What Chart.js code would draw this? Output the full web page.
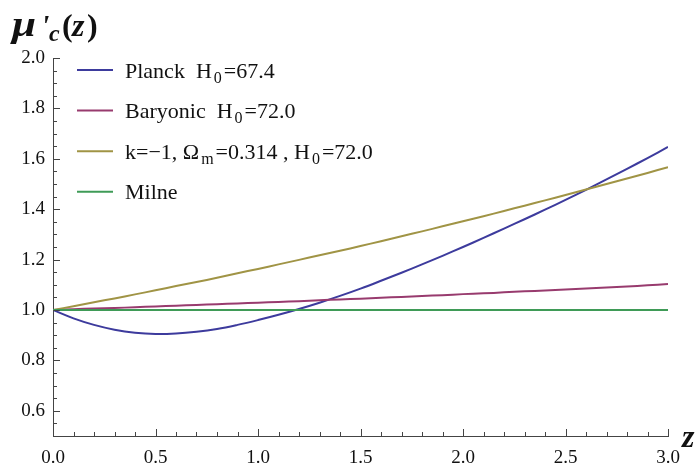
<!DOCTYPE html>
<html>
<head>
<meta charset="utf-8">
<script src="https://cdn.jsdelivr.net/npm/chart.js@4"></script>
<style>
  body { margin: 0; background: #fff; }
  #wrap { width: 699px; height: 466px; position: relative; }
</style>
</head>
<body>
<div id="wrap"><canvas id="muChart"></canvas></div>
<script>
const zValues = [0.0, 0.1, 0.2, 0.3, 0.4, 0.5, 0.6, 0.7, 0.8, 0.9, 1.0, 1.1, 1.2, 1.3, 1.4, 1.5,
  1.6, 1.7, 1.8, 1.9, 2.0, 2.1, 2.2, 2.3, 2.4, 2.5, 2.6, 2.7, 2.8, 2.9, 3.0];

const planck = [1.000, 0.967, 0.941, 0.922, 0.910, 0.905, 0.907, 0.914, 0.925, 0.941, 0.960,
  0.981, 1.004, 1.029, 1.056, 1.085, 1.116, 1.148, 1.181, 1.215, 1.250, 1.286, 1.323,
  1.360, 1.398, 1.437, 1.477, 1.518, 1.560, 1.603, 1.647];

const baryonic = [1.000, 1.003, 1.006, 1.008, 1.011, 1.014, 1.017, 1.020, 1.023, 1.026, 1.029,
  1.032, 1.035, 1.039, 1.042, 1.045, 1.049, 1.052, 1.056, 1.059, 1.063, 1.066, 1.070,
  1.074, 1.077, 1.081, 1.085, 1.089, 1.093, 1.098, 1.103];

const openModel = [1.000, 1.015, 1.031, 1.046, 1.062, 1.078, 1.095, 1.111, 1.128, 1.146, 1.163,
  1.181, 1.199, 1.217, 1.235, 1.254, 1.273, 1.293, 1.312, 1.332, 1.352, 1.372, 1.393,
  1.414, 1.435, 1.456, 1.478, 1.500, 1.522, 1.544, 1.567];

const milne = [1, 1, 1, 1, 1, 1, 1, 1, 1, 1, 1, 1, 1, 1, 1, 1, 1, 1, 1, 1, 1, 1, 1, 1, 1, 1, 1, 1, 1, 1, 1];

const xTicks = [0.0, 0.5, 1.0, 1.5, 2.0, 2.5, 3.0];
const yTicks = [0.6, 0.8, 1.0, 1.2, 1.4, 1.6, 1.8, 2.0];

const seriesColors = ['#3d3b9d', '#983b6e', '#a09445', '#3f9b57'];

// legend text pieces, second entry = subscript
const legendLabels = [
  [['Planck  H', 0], ['0', 1], ['=67.4', 0]],
  [['Baryonic  H', 0], ['0', 1], ['=72.0', 0]],
  [['k=\u22121, \u03A9', 0], ['m', 1], ['=0.314 , H', 0], ['0', 1], ['=72.0', 0]],
  [['Milne', 0]]
];

const serif = '"Liberation Serif", "Times New Roman", serif';

function toPoints(values) {
  return values.map((v, i) => ({ x: zValues[i], y: v }));
}

const decorations = {
  id: 'decorations',
  afterDraw(chart) {
    const ctx = chart.ctx;
    const xs = chart.scales.x;
    const ys = chart.scales.y;
    const area = chart.chartArea;
    ctx.save();

    // ticks pointing into the plot
    ctx.strokeStyle = '#444';
    ctx.lineWidth = 1;
    for (let i = 0; i <= 30; i++) {
      const v = i / 10;
      const px = Math.round(xs.getPixelForValue(v)) + 0.5;
      const len = (i % 5 === 0) ? 7 : 4;
      ctx.beginPath();
      ctx.moveTo(px, area.bottom);
      ctx.lineTo(px, area.bottom - len);
      ctx.stroke();
    }
    for (let i = 10; i <= 40; i++) {
      const v = i / 20;
      const py = Math.round(ys.getPixelForValue(v)) + 0.5;
      const len = (i % 4 === 0) ? 7 : 4;
      ctx.beginPath();
      ctx.moveTo(area.left, py);
      ctx.lineTo(area.left + len, py);
      ctx.stroke();
    }

    // legend
    legendLabels.forEach((parts, i) => {
      const cy = 70 + i * 40.6;
      ctx.strokeStyle = seriesColors[i];
      ctx.lineWidth = 2;
      ctx.beginPath();
      ctx.moveTo(77, cy);
      ctx.lineTo(113, cy);
      ctx.stroke();
      let x = 125;
      ctx.fillStyle = '#111';
      ctx.textBaseline = 'alphabetic';
      ctx.textAlign = 'left';
      parts.forEach(([txt, sub]) => {
        ctx.font = (sub ? '16px ' : '22px ') + serif;
        if (sub) x += 2;
        ctx.fillText(txt, x, cy + 7.5 + (sub ? 5 : 0));
        x += ctx.measureText(txt).width + (sub ? 2 : 0);
      });
    });

    // title mu'_c(z)
    ctx.fillStyle = '#111';
    ctx.save();
    ctx.translate(12, 36);
    ctx.scale(1.2, 1);
    ctx.font = 'bold italic 36px ' + serif;
    ctx.fillText('\u03BC', 0, 0);
    ctx.restore();
    ctx.font = 'bold italic 30px ' + serif;
    ctx.fillText('\'', 41, 35);
    ctx.font = 'bold italic 24px ' + serif;
    ctx.fillText('c', 49, 41);
    ctx.font = 'bold 32px ' + serif;
    ctx.fillText('(', 62, 36);
    ctx.font = 'bold italic 32px ' + serif;
    ctx.fillText('z', 72, 36);
    ctx.font = 'bold 32px ' + serif;
    ctx.fillText(')', 87, 36);

    // axis label z
    ctx.font = 'bold italic 32px ' + serif;
    ctx.fillText('z', 682, 447);
    ctx.restore();
  }
};

const ctx = document.getElementById('muChart').getContext('2d');
new Chart(ctx, {
  type: 'line',
  data: {
    datasets: [
      { label: 'Milne', data: toPoints(milne), borderColor: seriesColors[3] },
      { label: 'k=-1', data: toPoints(openModel), borderColor: seriesColors[2] },
      { label: 'Baryonic', data: toPoints(baryonic), borderColor: seriesColors[1] },
      { label: 'Planck', data: toPoints(planck), borderColor: seriesColors[0] }
    ].map(d => Object.assign(d, {
      borderWidth: 2,
      pointRadius: 0,
      fill: false,
      tension: 0.4
    }))
  },
  options: {
    responsive: true,
    maintainAspectRatio: false,
    animation: false,
    layout: { padding: { left: 0, top: 58, right: 31, bottom: 0 } },
    plugins: {
      legend: { display: false },
      tooltip: { enabled: false }
    },
    scales: {
      x: {
        type: 'linear',
        min: 0,
        max: 3,
        afterFit: s => { s.height = 30; },
        afterBuildTicks: s => { s.ticks = xTicks.map(v => ({ value: v })); },
        grid: { display: false, drawTicks: false },
        border: { display: true, color: '#444', width: 1 },
        ticks: {
          padding: 11,
          color: '#111',
          maxRotation: 0,
          font: { family: serif, size: 19 },
          callback: v => v.toFixed(1)
        }
      },
      y: {
        min: 0.5,
        max: 2.0,
        afterFit: s => { s.width = 53; },
        afterBuildTicks: s => { s.ticks = yTicks.map(v => ({ value: v })); },
        grid: { display: false, drawTicks: false },
        border: { display: true, color: '#444', width: 1 },
        ticks: {
          padding: 8,
          color: '#111',
          font: { family: serif, size: 19 },
          callback: v => v.toFixed(1)
        }
      }
    }
  },
  plugins: [decorations]
});
</script>
</body>
</html>
